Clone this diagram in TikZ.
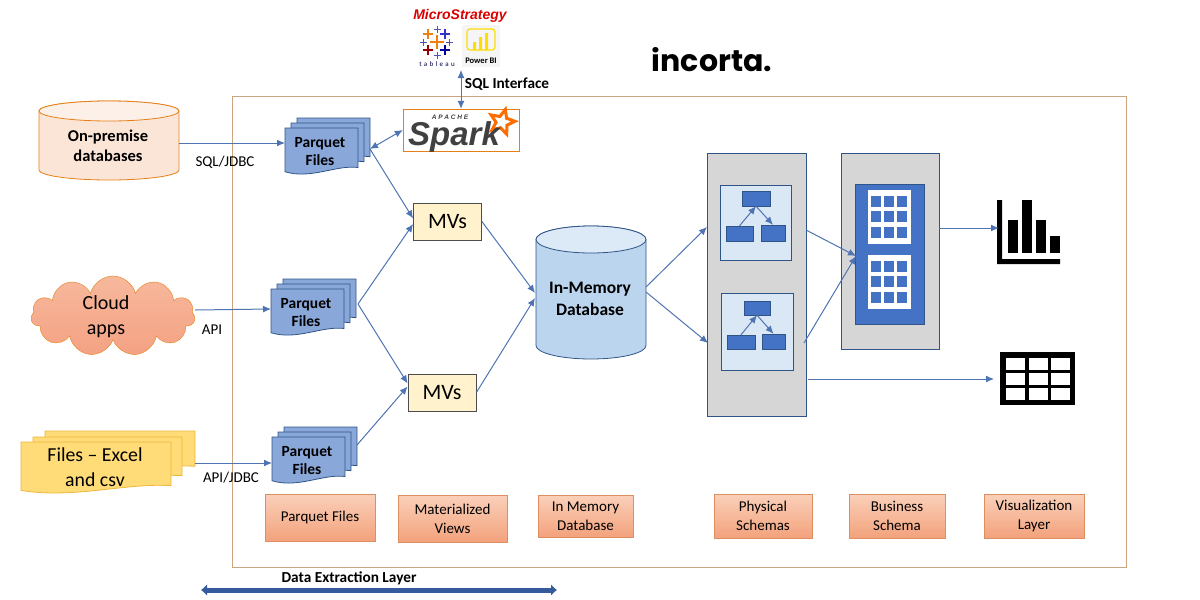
\documentclass[tikz,border=0pt]{standalone}
\usepackage{fontspec}
\setmainfont{Carlito}
\newfontfamily\logofont{Liberation Sans}
\newfontfamily\brandfont{Poppins}
\usetikzlibrary{shapes.geometric,shapes.symbols,arrows.meta}
\definecolor{linkblue}{HTML}{4F74B3}
\definecolor{boxblue}{HTML}{4472C4}
\definecolor{darkblue}{HTML}{2F5587}
\definecolor{frametan}{HTML}{C9A67F}
\definecolor{sheetblue}{HTML}{8AA7DA}
\definecolor{filegold}{HTML}{FFDC78}
\definecolor{fileedge}{HTML}{EDB63C}
\definecolor{salmonedge}{HTML}{DE8F62}
\definecolor{salmontop}{HTML}{FAD0BA}
\definecolor{salmonlow}{HTML}{F3A27C}
\definecolor{cloudtop}{HTML}{F7B89C}
\definecolor{cloudlow}{HTML}{F4A283}
\definecolor{drumbody}{HTML}{BBD5EE}
\definecolor{drumlid}{HTML}{DCE9F6}
\definecolor{paleblue}{HTML}{DAE7F5}
\definecolor{peachbody}{HTML}{FBE5D6}
\definecolor{peachlid}{HTML}{FDF0E8}
\definecolor{cream}{HTML}{FFF2CC}
\tikzset{
  link/.style={draw=linkblue,line width=1pt,-{Latex[length=8pt,width=7pt]}},
  biglink/.style={link,{Latex[length=8pt,width=7pt]}-{Latex[length=8pt,width=7pt]}},
  layerbox/.style={draw=salmonedge,top color=salmontop,bottom color=salmonlow,
    minimum height=44pt,align=center,font=\fontsize{15}{19}\selectfont,inner sep=0pt},
  mvbox/.style={draw=black!70,fill=cream,minimum width=68pt,minimum height=37pt,
    font=\fontsize{22}{24}\selectfont,line width=.8pt},
  panel/.style={draw=darkblue,fill=black!16,line width=.8pt,inner sep=0pt},
  lightbox/.style={draw=darkblue,fill=paleblue,line width=.7pt,inner sep=0pt},
  smallbox/.style={draw=darkblue,fill=boxblue,inner sep=0pt},
  sheetlabel/.style={align=center,inner sep=0pt,font=\fontsize{15.5}{18}\selectfont\bfseries},
  caption/.style={inner sep=0pt,font=\fontsize{15}{15}\selectfont},
  filesheet/.style={draw=fileedge,fill=filegold,line width=.8pt},
  parquetsheet/.style={draw=darkblue,fill=sheetblue,line width=.8pt},
}
% one sheet with a wavy lower edge: x, y, width, height, style
\newcommand{\wavesheet}[5]{
  \draw[#5] (#1,#2) -- ({#1+#3},#2) -- ({#1+#3},{#2+.84*#4})
    .. controls ({#1+.7*#3},{#2+.78*#4}) and ({#1+.35*#3},{#2+1.1*#4}) .. (#1,{#2+.93*#4}) -- cycle;
}
% stack of three parquet sheets
\newcommand{\parquet}[3]{
  \wavesheet{#1+12}{#2-10}{73}{46}{parquetsheet}
  \wavesheet{#1+6}{#2-5}{73}{46}{parquetsheet}
  \wavesheet{#1}{#2}{73}{47}{parquetsheet}
  \node[sheetlabel] (#3) at ({#1+35},{#2+23.5}) {Parquet\\Files};
}
% drum with lighter lid: left, top, right, bottom, lid radius, edge, body, lid
\newcommand{\drum}[8]{
  \pgfmathsetmacro{\drumrx}{(#3-#1)/2}
  \draw[draw=#6,fill=#7,line width=.8pt] (#1,#2+#5) -- (#1,#4-#5)
    arc[start angle=180,end angle=360,x radius=\drumrx pt,y radius=#5 pt]
    -- (#3,#2+#5) arc[start angle=0,end angle=180,x radius=\drumrx pt,y radius=#5 pt] -- cycle;
  \draw[draw=#6,fill=#8,line width=.8pt] (#1,#2+#5)
    arc[start angle=180,end angle=360,x radius=\drumrx pt,y radius=#5 pt]
    arc[start angle=0,end angle=180,x radius=\drumrx pt,y radius=#5 pt] -- cycle;
}
% plus of the tableau mark
\newcommand{\plusmark}[5]{
  \draw[#5,line width=#4pt] ({#1-#3},#2) -- ({#1+#3},#2) (#1,{#2-#3}) -- (#1,{#2+#3});
}
\begin{document}
\begin{tikzpicture}[x=1pt,y=-1pt]
\useasboundingbox (0,0) rectangle (1200,600);
\clip (0,0) rectangle (1200,600);

% logos on top
\node[inner sep=0pt,font=\logofont\fontsize{14}{14}\selectfont\bfseries\itshape,text=red!85!black] (mstr) at (460,16) {MicroStrategy};
\plusmark{437}{42}{7}{2}{orange!75!brown}
\plusmark{437}{29}{3.5}{1}{blue!35!gray}
\plusmark{423}{42}{3.5}{1}{blue!35!gray}
\plusmark{449}{42}{3.5}{1}{blue!35!gray}
\plusmark{437}{55}{3.5}{1}{blue!35!gray}
\plusmark{428}{34}{5}{1.6}{orange!70!brown}
\plusmark{445}{34}{5}{1.6}{blue!60!gray}
\plusmark{428}{50}{5}{1.6}{red!60!black}
\plusmark{445}{50}{5}{1.6}{blue!60!black}
\node[inner sep=0pt,font=\fontsize{7}{7}\selectfont,text=blue!30!black] (tableau) at (437,64) {t\,\,a\,\,b\,\,l\,\,e\,\,a\,\,u};
\fill[black!4] (462,25) rectangle (500,67);
\draw[draw=yellow!80!orange,rounded corners=3pt,line width=1.2pt] (467,29) rectangle (495,50);
\fill[yellow!80!orange] (473,42) rectangle (476,50) (479,37) rectangle (482,50) (485,33) rectangle (488,50);
\node[inner sep=0pt,font=\fontsize{8.5}{8.5}\selectfont\bfseries] (powerbi) at (481,61) {Power BI};
\node[inner sep=0pt,font=\brandfont\fontsize{30}{30}\selectfont\bfseries] (incorta) at (712,60) {incorta.};

% outer frame
\draw[frametan,line width=.9pt] (232,96) rectangle (1126,567);

% sources
\drum{39}{101}{179}{180}{10}{orange!60!brown}{peachbody}{peachlid}
\node[inner sep=0pt,align=center,font=\fontsize{16.5}{20}\selectfont\bfseries] (onprem) at (108,146) {On-premise\\databases};
\node[cloud,cloud puffs=11,aspect=2,draw=orange!60!brown,top color=cloudtop,bottom color=cloudlow,
  minimum width=164pt,minimum height=80pt,inner sep=0pt] (cloudapps) at (113,316) {};
\node[inner sep=0pt,align=center,font=\fontsize{20}{25}\selectfont] (cloudtext) at (106,317) {Cloud\\apps};
\wavesheet{45}{431}{150}{42}{filesheet}
\wavesheet{33}{437}{149}{46}{filesheet}
\wavesheet{21}{442}{150}{52}{filesheet}
\node[inner sep=0pt,align=center,font=\fontsize{19.8}{25}\selectfont] (files) at (95,467.5) {Files -- Excel\\and csv};
\coordinate (onpreme) at (179,143);
\coordinate (cloude) at (195,310);
\coordinate (filese) at (195,463);

% parquet stacks
\parquet{285}{128}{pqa}
\parquet{271}{289}{pqb}
\parquet{272}{437}{pqc}
\coordinate (pqaw) at (285,143);
\coordinate (pqbw) at (271,309);
\coordinate (pqcw) at (272,463);
\coordinate (pqae) at (370,149);
\coordinate (pqbe) at (358,304);
\coordinate (pqce) at (357,445);

\draw[link] (onpreme) -- (pqaw);
\draw[link] (cloude) -- (pqbw);
\draw[link] (filese) -- (pqcw);
\node[caption] (jdbc) at (225,162) {SQL/JDBC};
\node[caption] (api) at (212,330) {API};
\node[caption] (apijdbc) at (231,478) {API/JDBC};

% spark
\node[draw=orange!60!brown,fill=white,minimum width=116pt,minimum height=42pt,inner sep=0pt] (spark) at (461,130) {};
\node[star,star points=5,star point ratio=2.2,fill=white,draw=orange!85!red,line width=3pt,
  minimum size=26pt,inner sep=0pt,rotate=-15] (sparkstar) at (502,122) {};
\node[inner sep=0pt,font=\logofont\fontsize{33}{33}\selectfont\bfseries\itshape,text=black!75] (sparktext) at (454,137) {Spark};
\node[inner sep=0pt,font=\logofont\fontsize{6.5}{6.5}\selectfont\bfseries\itshape,text=black!75] (apache) at (450,117) {A P A C H E};
\draw[biglink] (pqae) -- (spark.west);
\coordinate (bi) at (461,70);
\draw[biglink] (bi) -- (spark.north);
\node[inner sep=0pt,font=\fontsize{15.3}{15}\selectfont\bfseries] (sqlif) at (507,84) {SQL Interface};

% materialized views
\node[mvbox] (mva) at (447.5,221.5) {MVs};
\node[mvbox] (mvb) at (442,392.5) {MVs};
\draw[link] (pqae) -- ([yshift=3pt]mva.west);
\draw[link] (pqbe) -- ([yshift=-2.5pt]mva.west);
\draw[link] (pqbe) -- ([yshift=9pt]mvb.west);
\draw[link] (pqce) -- ([yshift=6pt]mvb.west);

% in memory database
\drum{536}{226}{646}{359}{13.5}{darkblue}{drumbody}{drumlid}
\node[inner sep=0pt,align=center,font=\fontsize{17.5}{22}\selectfont\bfseries] (db) at (590,299) {In-Memory\\Database};
\coordinate (dbwa) at (535,293);
\coordinate (dbwb) at (535,298);
\coordinate (dbea) at (646,287);
\coordinate (dbeb) at (646,292);
\draw[link] (mva.east) -- (dbwa);
\draw[link] (mvb.east) -- (dbwb);

% physical schemas
\node[panel,minimum width=99pt,minimum height=263pt] (phys) at (756.5,284.5) {};
\node[lightbox,minimum width=71pt,minimum height=75pt] (phya) at (755.5,222.5) {};
\node[lightbox,minimum width=72pt,minimum height=77pt] (phyb) at (757,331.5) {};
\node[smallbox,minimum width=28pt,minimum height=15pt] (aroot) at (756,198.5) {};
\node[smallbox,minimum width=27pt,minimum height=15pt] (aleft) at (739.5,233.5) {};
\node[smallbox,minimum width=24pt,minimum height=16pt] (aright) at (773,233) {};
\node[smallbox,minimum width=26pt,minimum height=14pt] (broot) at (757,308) {};
\node[smallbox,minimum width=28pt,minimum height=14pt] (bleft) at (741,342) {};
\node[smallbox,minimum width=23pt,minimum height=15pt] (bright) at (773.5,341.5) {};
\draw[link] (aleft.north) -- (aroot.south);
\draw[link] (aroot.south) -- (aright.north);
\draw[link] (bleft.north) -- (broot.south);
\draw[link] (broot.south) -- (bright.north);
\coordinate (physwa) at (707,227);
\coordinate (physwb) at (708,343);
\draw[link] (dbea) -- (physwa);
\draw[link] (dbeb) -- (physwb);

% business schema
\node[panel,minimum width=98pt,minimum height=196pt] (bus) at (890,251) {};
\node[draw=darkblue,fill=boxblue,minimum width=69pt,minimum height=140pt,inner sep=0pt] (busgrid) at (889.5,254) {};
\foreach \gy/\gname in {190/ga,255/gb}{
  \node[fill=white,minimum width=43pt,minimum height=54pt,inner sep=0pt] (\gname) at (889.5,\gy+27) {};
  \foreach \cx in {871,884,897}
    \foreach \cy in {6,21,37}
      \fill[boxblue] (\cx,\gy+\cy) rectangle ++(10,11);
}
\coordinate (physea) at (806,230);
\coordinate (physeb) at (804,343);
\coordinate (physec) at (808,379);
\coordinate (busw) at (856,256);
\draw[link] (physea) -- (busw);
\draw[link] (physeb) -- (busw);

% visualization icons
\fill (997,200) rectangle (1002,264) (997,259) rectangle (1060,264);
\foreach \bx/\by in {1008/220,1022/200,1036/220,1050/236}
  \fill (\bx,\by) rectangle (\bx+10,253);
\coordinate (chart) at (999,228);
\draw[link] (bus.east |- chart) -- (chart);
\node[fill=black,minimum width=75pt,minimum height=53pt,inner sep=0pt] (tablei) at (1037.5,378.5) {};
\foreach \tx in {1006,1028.5,1051}
  \foreach \ty in {358,373,388}
    \fill[white] (\tx,\ty) rectangle ++(19,11.5);
\coordinate (tablew) at (994,379);
\draw[link] (physec) -- (tablew);

% layer captions
\node[layerbox,minimum width=110pt,minimum height=47pt] (lparquet) at (320,517.5) {Parquet Files};
\node[layerbox,minimum width=109pt,minimum height=47pt] (lviews) at (452.5,518.5) {Materialized\\Views};
\node[layerbox,minimum width=95pt,minimum height=42pt] (lmemory) at (585.5,516) {In Memory\\Database};
\node[layerbox,minimum width=98pt] (lphys) at (763,516) {Physical\\Schemas};
\node[layerbox,minimum width=96pt] (lbus) at (897,516) {Business\\Schema};
\node[layerbox,minimum width=100pt] (lvis) at (1034,516) {Visualization\\Layer};

% extraction layer
\coordinate (exl) at (201,590);
\coordinate (exr) at (557,590);
\draw[draw=boxblue!80!black,line width=5pt,{Latex[length=6pt,width=12pt]}-{Latex[length=6pt,width=12pt]}] (exl) -- (exr);
\node[inner sep=0pt,font=\fontsize{15.3}{15}\selectfont\bfseries] (extract) at (349,578) {Data Extraction Layer};
\end{tikzpicture}
\end{document}
